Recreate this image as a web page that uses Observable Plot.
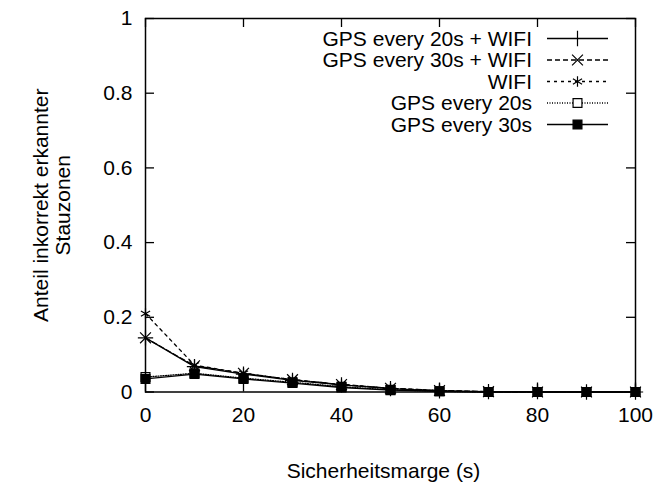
<!DOCTYPE html>
<html><head><meta charset="utf-8">
<script src="https://cdn.jsdelivr.net/npm/d3@7"></script>
<script src="https://cdn.jsdelivr.net/npm/@observablehq/plot@0.6"></script>
<style>body{margin:0;background:#fff} #chart{width:655px;height:487px}</style>
</head><body><div id="chart"></div>
<script>
const xValues = [0, 10, 20, 30, 40, 50, 60, 70, 80, 90, 100];
const gps20Wifi = [0.145, 0.068, 0.048, 0.031, 0.019, 0.009, 0.003, 0.001, 0.001, 0, 0];
const gps30Wifi = [0.145, 0.070, 0.050, 0.033, 0.020, 0.010, 0.004, 0.001, 0, 0, 0];
const wifi      = [0.21, 0.072, 0.050, 0.033, 0.020, 0.010, 0.004, 0, 0, 0, 0];
const gps20     = [0.040, 0.050, 0.037, 0.026, 0.014, 0.006, 0.002, 0, 0, 0, 0];
const gps30     = [0.035, 0.048, 0.035, 0.024, 0.012, 0.005, 0.002, 0, 0, 0, 0];
const seriesNames = ["GPS every 20s + WIFI", "GPS every 30s + WIFI", "WIFI", "GPS every 20s", "GPS every 30s"];
const seriesValues = [gps20Wifi, gps30Wifi, wifi, gps20, gps30];
const xTicks = [0, 20, 40, 60, 80, 100];
const yTicks = [0, 0.2, 0.4, 0.6, 0.8, 1];
const xLabel = "Sicherheitsmarge (s)";
const yLabel = "Anteil inkorrekt erkannter\nStauzonen";

const styles = [
  {dash: null, symbol: "plus", fill: "none"},
  {dash: "5,3", symbol: "times", fill: "none"},
  {dash: "3,4", symbol: "asterisk", fill: "none"},
  {dash: "1,1.5", symbol: "square", fill: "none"},
  {dash: null, symbol: "square", fill: "black"}
];

const W = 655, H = 487;
const mL = 145, mR = 20, mT = 18, mB = 95.5;
const fw = W - mL - mR, fh = H - mT - mB;
const tick = 9;
const lw = 1.3;
const fs = 21;
const font = "'Liberation Sans', Arial, Helvetica, sans-serif";

const marks = [];
seriesNames.forEach((name, i) => {
  const rows = xValues.map((x, j) => ({series: name, x, y: seriesValues[i][j]}));
  const s = styles[i];
  marks.push(Plot.line(rows, {x: "x", y: "y", stroke: "black", strokeWidth: lw, strokeDasharray: s.dash}));
  marks.push(Plot.dot(rows, {x: "x", y: "y", symbol: () => s.symbol, r: 5, stroke: "black", strokeWidth: 1.2, fill: s.fill}));
});

const chart = Plot.plot({
  width: W, height: H,
  marginLeft: mL, marginRight: mR, marginTop: mT, marginBottom: mB,
  style: {fontFamily: font, fontSize: fs + "px", background: "white", color: "black"},
  x: {domain: [0, 100]},
  y: {domain: [0, 1]},
  symbol: {type: "identity"},
  marks: [
    Plot.ruleX(xTicks, {x: d => d, insetTop: fh - tick, stroke: "black", strokeWidth: lw}),
    Plot.ruleX(xTicks, {x: d => d, insetBottom: fh - tick, stroke: "black", strokeWidth: lw}),
    Plot.ruleY(yTicks, {y: d => d, insetRight: fw - tick, stroke: "black", strokeWidth: lw}),
    Plot.ruleY(yTicks, {y: d => d, insetLeft: fw - tick, stroke: "black", strokeWidth: lw}),
    Plot.axisX(xTicks, {tickSize: 0, tickPadding: 15, label: null, tickFormat: d => String(d)}),
    Plot.axisY(yTicks, {tickSize: 0, tickPadding: 13, label: null, tickFormat: d => String(d)}),
    ...marks,
    Plot.frame({stroke: "black", strokeWidth: 1.5}),
    Plot.text([yLabel], {text: d => d, frameAnchor: "left", textAnchor: "middle", dx: -94, rotate: -90, lineHeight: 1.05, fontSize: fs}),
    Plot.text([xLabel], {text: d => d, frameAnchor: "bottom", textAnchor: "middle", dx: -7, dy: 86, fontSize: fs})
  ]
});
document.getElementById("chart").appendChild(chart);

// Legend inside the frame (top right)
const svg = d3.select(chart);
const symbolMap = {plus: d3.symbolPlus, times: d3.symbolTimes, asterisk: d3.symbolAsterisk, square: d3.symbolSquare};
const lg = svg.append("g").attr("font-family", font).attr("font-size", fs);
const textRight = W - mR - 103, lineX1 = W - mR - 88, lineX2 = W - mR - 27, symX = (lineX1 + lineX2) / 2;
seriesNames.forEach((name, i) => {
  const s = styles[i];
  const y = mT + 20.5 + i * 21.5;
  lg.append("text").attr("x", textRight).attr("y", y).attr("dy", "0.35em").attr("text-anchor", "end").text(name);
  lg.append("line").attr("x1", lineX1).attr("x2", lineX2).attr("y1", y).attr("y2", y)
    .attr("stroke", "black").attr("stroke-width", lw).attr("stroke-dasharray", s.dash);
  lg.append("path").attr("transform", `translate(${symX},${y})`)
    .attr("d", d3.symbol(symbolMap[s.symbol], Math.PI * 25)())
    .attr("stroke", "black").attr("stroke-width", 1.2).attr("fill", s.fill === "none" ? "white" : s.fill);
});
</script>
</body></html>
